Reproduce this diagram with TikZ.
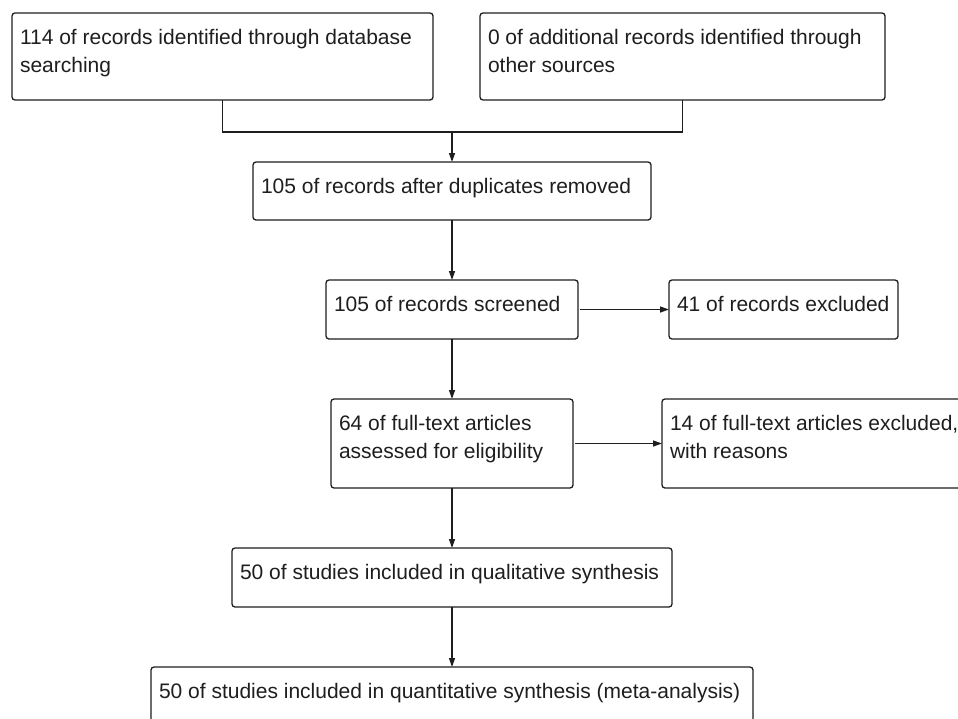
\documentclass[tikz,border=0pt]{standalone}
\usepackage{fontspec}
\setmainfont{Liberation Sans}
\usetikzlibrary{arrows.meta}
\definecolor{ink}{HTML}{1E1E1E}
\newcommand\bxt[3]{\parbox[c][#2][t]{\dimexpr#1-16pt\relax}{\raggedright\fontsize{21}{28.5}\selectfont\rule{0pt}{31pt}#3}}
\begin{document}
\begin{tikzpicture}[x=1pt,y=-1pt,
  flowbox/.style={draw=ink, line width=1.3pt, rounded corners=3pt, inner xsep=8pt, inner ysep=0pt, outer sep=0pt, text=ink},
  conn/.style={draw=ink, line width=1.3pt},
  arr/.style={conn, -{Triangle[length=9pt,width=6pt]}}]
\useasboundingbox (0,0) rectangle (958,718);
\fill[white] (0,0) rectangle (958,718);
\node[flowbox] (b1) at (222.5,56.5) {\bxt{421pt}{87pt}{114 of records identified through database\\searching}};
\node[flowbox] (b2) at (682.5,56.5) {\bxt{405pt}{87pt}{0 of additional records identified through\\other sources}};
\node[flowbox] (b3) at (452,191) {\bxt{398pt}{58pt}{105 of records after duplicates removed}};
\node[flowbox] (b4) at (452,309.5) {\bxt{252pt}{59pt}{105 of records screened}};
\node[flowbox] (b5) at (783.5,309.5) {\bxt{229pt}{59pt}{41 of records excluded}};
\node[flowbox] (b6) at (452,443.5) {\bxt{242pt}{89pt}{64 of full-text articles\\assessed for eligibility}};
\node[flowbox] (b7) at (818.5,443.5) {\bxt{313pt}{89pt}{14 of full-text articles excluded,\\with reasons}};
\node[flowbox] (b8) at (452,577.5) {\bxt{440pt}{59pt}{50 of studies included in qualitative synthesis}};
\node[flowbox] (b9) at (452,696.5) {\bxt{602pt}{59pt}{50 of studies included in quantitative synthesis (meta-analysis)}};
\coordinate (j) at (452,132);
\draw[conn] (b1.south) |- (j) -| (b2.south);
\draw[arr] (j) -- (b3.north);
\draw[arr] (b3.south) -- (b4.north);
\draw[arr, shorten <=2pt] (b4.east) -- (b5.west);
\draw[arr] (b4.south) -- (b6.north);
\draw[arr, shorten <=2pt] (b6.east) -- (b7.west);
\draw[arr] (b6.south) -- (b8.north);
\draw[arr] (b8.south) -- (b9.north);
\end{tikzpicture}
\end{document}
